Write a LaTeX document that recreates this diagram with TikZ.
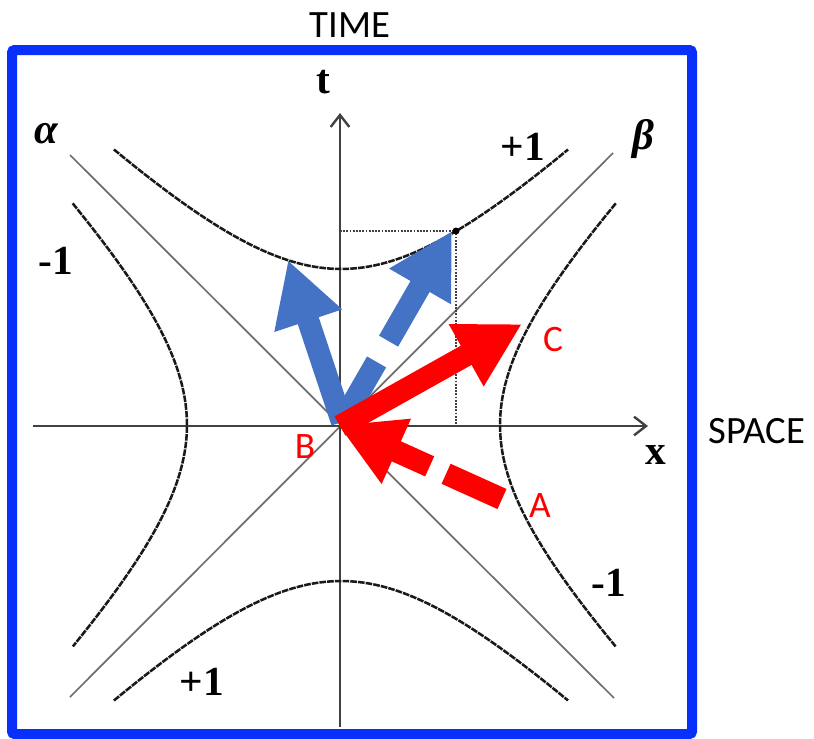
\documentclass[tikz,border=0pt]{standalone}
\usepackage{fontspec}
\newfontfamily\calfont{Carlito}
\newfontfamily\serfont{Liberation Serif}
\usetikzlibrary{arrows.meta}
\definecolor{framebl}{RGB}{8,48,250}
\definecolor{arrbl}{RGB}{68,114,196}
\definecolor{axgray}{RGB}{65,65,65}
\definecolor{diaggray}{RGB}{110,110,110}
\tikzset{
  axisline/.style={axgray, line width=2.2pt, -{Straight Barb[length=9pt,width=14pt,line width=1.8pt]}},
  diagline/.style={diaggray, line width=1.3pt},
  hyp/.style={black!90, line width=1.9pt, dash pattern=on 5pt off 0.8pt},
  dotline/.style={black!75, line width=1.4pt, dash pattern=on 1.3pt off 1.1pt},
  bigarrow/.style={line width=16.5pt, -{Triangle[length=48pt,width=50pt]}},
  boldlab/.style={font=\serfont\bfseries\fontsize{31}{33}\selectfont, inner sep=0pt},
  greeklab/.style={font=\serfont\bfseries\itshape\fontsize{32}{34}\selectfont, inner sep=0pt},
  callab/.style={font=\calfont\fontsize{29}{32}\selectfont, inner sep=0pt},
  redlab/.style={font=\calfont\fontsize{28}{30}\selectfont, text=red, inner sep=0pt}
}
\begin{document}
\begin{tikzpicture}[x=0.75pt,y=-0.75pt]
\useasboundingbox (0,0) rectangle (814,739);
% frame
\draw[framebl, line width=7.5pt, rounded corners=2pt] (12,50) rectangle (692,734);
% coordinates
\coordinate (O) at (340,426);
\coordinate (xl) at (33,426);
\coordinate (xr) at (648,426);
\coordinate (tb) at (340,727);
\coordinate (tt) at (340,113);
\coordinate (al1) at (70,155);
\coordinate (al2) at (614,698);
\coordinate (be1) at (613,153);
\coordinate (be2) at (70,697);
\coordinate (P) at (456,231);
\coordinate (Pt) at (340,231);
\coordinate (Px) at (456,426);
% diagonals
\draw[diagline] (al1) -- (al2);
\draw[diagline] (be1) -- (be2);
% axes
\draw[axisline] (xl) -- (xr);
\draw[axisline] (tb) -- (tt);
% hyperbolas
\draw[hyp] plot[domain=-1.17:1.17, samples=60] ({341+156*sinh(\x)}, {425-156*cosh(\x)});
\draw[hyp] plot[domain=-1.17:1.17, samples=60] ({341+156*sinh(\x)}, {425+156*cosh(\x)});
\draw[hyp] plot[domain=-1.15:1.15, samples=60] ({343+157*cosh(\x)}, {425+156*sinh(\x)});
\draw[hyp] plot[domain=-1.15:1.15, samples=60] ({342-155*cosh(\x)}, {425+156*sinh(\x)});
% dotted
\draw[dotline] (Pt) -- (P) -- (Px);
\fill[black] (P) circle (3.5);
% labels
\node[callab] (time) at (350,25) {TIME};
\node[callab] (space) at (757,431) {SPACE};
\node[boldlab] (tlab) at (323,82) {t};
\node[boldlab] (xlab) at (656,455) {x};
\node[greeklab] (alab) at (46,134) {α};
\node[greeklab] (blab) at (643,139) {β};
\node[boldlab] (p1a) at (523,147) {+1};
\node[boldlab] (m1a) at (56,261) {-1};
\node[boldlab] (m1b) at (609,583) {-1};
\node[boldlab] (p1b) at (202,682) {+1};
% arrows
\coordinate (Bb) at (342,422);
\coordinate (tipb1) at (288,260);
\coordinate (tipb2) at (452,231);
\coordinate (tipC) at (522,324);
\coordinate (Ar) at (502,499);
\coordinate (tipB) at (338,425);
\draw[bigarrow, arrbl] (Bb) -- (tipb1);
\draw[bigarrow, arrbl, dash pattern=on 52pt off 18pt] (Bb) -- (tipb2);
\draw[bigarrow, red] (O) -- (tipC);
\draw[bigarrow, red, dash pattern=on 46pt off 13.5pt] (Ar) -- (tipB);
\node[redlab] (Blab) at (305,447) {B};
\node[redlab] (Clab) at (553,340) {C};
\node[redlab] (Alab) at (540,506) {A};
\end{tikzpicture}
\end{document}
